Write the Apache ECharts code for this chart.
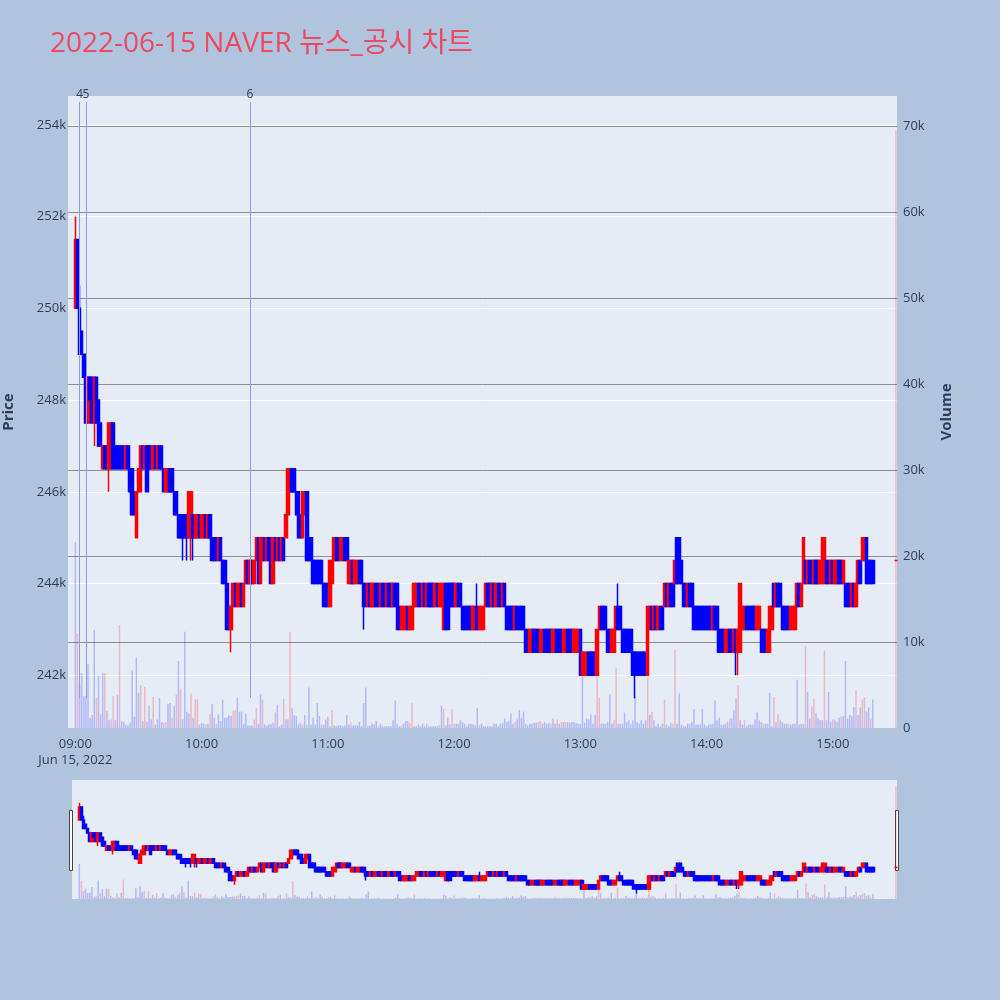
<!DOCTYPE html>
<html lang="ko">
<head>
<meta charset="UTF-8">
<title>2022-06-15 NAVER 뉴스_공시 차트</title>
<script src="https://cdn.jsdelivr.net/npm/echarts@6/dist/echarts.min.js"></script>
<style>
  body { margin: 0; background: #b0c4de; }
  #chart { width: 1000px; height: 1000px; }
</style>
</head>
<body>
<div id="chart"></div>
<script>
// 1분봉, 09:00 부터. 단위 천원: [시가, 종가] 또는 [시가, 종가, 저가, 고가]
var candles = [
  [250,251.5,250,252],[251.5,250],[250,249,249,250.5],[249.5,249],[249,248.5],[248.5,247.5],[247.5,248.5],[248.5,248],[248.5,247.5],[247.5,248.5,247,248.5],
  [248.5,247.5],[248,247],[247.5,247],[246.5,247],[247,246.5],[247,246.5],[246.5,247.5,246,247.5],[246.5,247.5],[247.5,246.5],[247,246.5],
  [247,246.5],[247,246.5],[247,246.5],[247,246.5],[246.5,247],[247,246.5],[246.5,246],[246.5,245.5],[246,245.5],[245,246],
  [246,246.5],[246,247],[247,246.5],[246.5,247],[247,246],[247,246.5],[247,246.5],[246.5,247],[247,246.5],[246.5,247],
  [247,246.5],[247,246.5],[246.5,246],[246,246.5],[246,246.5],[246.5,246],[246.5,246],[246,245.5],[246,245.5],[245.5,245],
  [245.5,245],[245.5,245,244.5,245.5],[245.5,245],[245.5,245,244.5,245.5],[245,246],[245,246,244.5,246],[245.5,245,244.5,245.5],[245,245.5],[245,245.5],[245.5,245],
  [245,245.5],[245,245.5],[245.5,245],[245,245.5],[245.5,245],[245,244.5],[245,244.5],[245,244.5],[244.5,245],[245,244.5],
  [244.5,244],[244.5,244],[244,243],[243.5,243],[243,243.5,242.5,243.5],[243.5,244],[244,243.5],[243.5,244],[243.5,244],[244,243.5],
  [243.5,244],[244,244.5],[244.5,244],[244,244.5],[244.5,244],[244,244.5],[244.5,245],[245,244],[244,245],[244.5,245],
  [245,244.5],[244.5,245],[245,244.5],[245,244],[244,245],[245,244.5],[244.5,245],[245,244.5],[244.5,245],[245,244.5],
  [245,245.5],[245.5,246.5],[246,246.5],[246.5,246],[246.5,246],[246,245.5],[246,245],[245.5,245],[245,246],[245.5,246],
  [246,244.5],[245,244.5],[245,244.5],[244.5,244],[244.5,244],[244.5,244],[244.5,244],[244.5,244],[244,243.5],[244,243.5],
  [244,243.5],[243.5,244.5],[244,244.5],[244.5,245],[245,244.5],[245,244.5],[244.5,245],[244.5,245],[245,244.5],[245,244.5],
  [244,244.5],[244,244.5],[244.5,244],[244,244.5],[244,244.5],[244.5,244],[244.5,244],[244,243.5,243,244],[244,243.5],[243.5,244],
  [244,243.5],[243.5,244],[243.5,244],[244,243.5],[244,243.5],[243.5,244],[244,243.5],[244,243.5],[243.5,244],[244,243.5],
  [244,243.5],[243.5,244],[244,243.5],[244,243],[243.5,243],[243,243.5],[243,243.5],[243,243.5],[243.5,243],[243,243.5],
  [243,243.5],[243.5,244],[243.5,244],[244,243.5],[244,243.5],[243.5,244],[244,243.5],[243.5,244],[244,243.5],[244,243.5],
  [244,243.5],[243.5,244],[244,243.5],[243.5,244],[243.5,244],[243,244],[244,243],[244,243],[244,243.5],[244,243.5],
  [244,243.5],[243.5,244],[244,243.5],[244,243.5],[243.5,243],[243.5,243],[243.5,243],[243.5,243],[243.5,243],[243,243.5],
  [243,243.5],[243.5,243,243,244],[243,243.5],[243,243.5],[243,243.5],[243.5,244],[244,243.5],[244,243.5],[243.5,244],[244,243.5],
  [243.5,244],[244,243.5],[244,243.5],[243.5,244],[244,243.5],[243.5,243],[243.5,243],[243.5,243],[243.5,243],[243,243.5],
  [243.5,243],[243.5,243],[243.5,243],[243.5,243],[243,242.5],[243,242.5],[242.5,243],[242.5,243],[243,242.5],[243,242.5],
  [243,242.5],[242.5,243],[242.5,243],[243,242.5],[243,242.5],[243,242.5],[243,242.5],[242.5,243],[242.5,243],[243,242.5],
  [243,242.5],[243,242.5],[242.5,243],[242.5,243],[243,242.5],[243,242.5],[243,242.5],[242.5,243],[242.5,243],[242.5,243],
  [243,242],[242,242.5],[242,242.5],[242,242.5],[242.5,242],[242.5,242],[242.5,242],[242.5,242],[242,243],[243,243.5],
  [243.5,243],[243.5,243],[243.5,243],[243,242.5],[243,242.5],[242.5,243],[242.5,243],[243,243.5],[243.5,243,243,244],[243.5,243],
  [243,242.5],[243,242.5],[243,242.5],[243,242.5],[243,242.5],[242.5,242],[242.5,242,241.5,242.5],[242.5,242],[242.5,242],[242.5,242],
  [242.5,242],[242.5,242],[242,243.5],[243,243.5],[243.5,243],[243,243.5],[243.5,243],[243,243.5],[243.5,243],[243.5,243],
  [243.5,244],[244,243.5],[243.5,244],[244,243.5],[244,243.5],[244,244.5],[245,244],[245,244],[244.5,244],[244,243.5],
  [244,243.5],[243.5,244],[244,243.5],[244,243.5],[243.5,243],[243.5,243],[243.5,243],[243.5,243],[243.5,243],[243.5,243],
  [243.5,243],[243.5,243],[243.5,243],[243,243.5],[243.5,243],[243.5,243],[243,242.5],[243,242.5],[243,242.5],[242.5,243],
  [242.5,243],[243,242.5],[243,242.5],[242.5,243],[243,242.5,242,243],[242.5,243,242,243],[242.5,244],[243,243.5],[243,243.5],[243.5,243],
  [243.5,243],[243.5,243],[243.5,243],[243.5,243],[243,243.5],[243,243.5],[243,242.5],[243,242.5],[243,242.5],[242.5,243],
  [242.5,243.5],[243,243.5],[244,243.5],[243.5,244],[244,243.5],[244,243.5],[243.5,243],[243.5,243],[243.5,243],[243.5,243],
  [243,243.5],[243,243.5],[243,243.5],[243.5,244],[244,243.5],[243.5,244],[244,245],[244.5,244],[244,244.5],[244.5,244],
  [244.5,244],[244,244.5],[244.5,244],[244.5,244],[244,244.5],[244,245],[244,245],[244.5,244],[244.5,244],[244,244.5],
  [244.5,244],[244,244.5],[244,244.5],[244.5,244],[244.5,244],[244,244.5],[244,243.5],[244,243.5],[244,243.5],[243.5,244],
  [244,243.5],[243.5,244],[244,244.5],[244.5,244],[244.5,245],[244.5,245],[245,244],[244.5,244],[244.5,244],[244.5,244]
];

// 분당 거래량 (천주)
var volumes = [
  21.6,11,5,6.4,3.7,3.7,7.4,1.2,1.5,11.4,
  3.5,6.1,1.6,6.4,6.4,2.0,0.9,1.0,3.7,0.9,
  3.8,12,0.8,0.7,0.4,0.3,0.6,6.7,1.3,8.2,
  4.1,5,0.8,4.8,0.7,2.6,1.0,3.6,0.4,1.0,
  3.5,0.7,0.6,0.7,2.8,2.9,1.2,2.6,3.9,7.8,
  4.5,1.0,11.2,1.9,1.7,4.0,1.2,3.3,3.3,0.4,
  0.6,0.5,0.4,0.5,1.6,2.8,1.2,0.5,1.6,0.8,
  3.3,1.2,1.2,1.5,1.4,2.0,2.1,3.5,1.9,1.9,
  0.5,1.7,0.3,0.3,0.3,1.0,2.3,0.5,3.9,3.3,
  0.4,0.3,0.4,0.4,0.6,1.8,2.7,0.2,0.4,3.4,
  1.0,1.0,11.2,2.3,1.5,1.4,0.4,0.6,0.4,1.5,
  0.4,4.7,0.4,1.2,0.4,2.9,1.4,0.4,0.4,1.0,
  1.3,0.2,2.1,0.3,0.2,0.3,0.3,0.2,0.3,1.5,
  0.4,0.7,0.3,0.3,0.3,0.7,0.2,2.9,4.7,0.2,
  0.3,0.5,0.4,0.8,0.2,0.5,0.2,0.2,0.2,0.2,
  0.2,0.9,3.2,0.5,0.2,0.3,0.5,0.8,0.8,0.6,
  2.9,0.2,0.2,0.4,0.2,0.5,0.2,0.5,0.2,0.2,
  0.2,0.2,0.2,0.3,2.6,2.2,0.3,1.2,0.4,2.2,
  0.5,0.5,0.5,0.9,0.7,0.5,0.2,0.5,0.5,0.4,
  0.3,2.3,0.3,0.5,0.2,0.2,0.2,0.2,0.2,0.5,
  0.5,0.2,0.5,0.6,1.1,0.7,0.8,1.7,0.5,0.7,
  1.0,2.1,1.2,1.9,0.5,0.3,0.5,0.5,0.6,0.6,
  0.7,0.8,0.5,0.7,0.5,0.6,0.5,1.1,0.5,1.0,
  0.5,0.7,0.7,0.7,0.7,0.6,0.7,0.7,0.6,0.5,
  0.5,6.4,0.6,1.1,1.0,1.6,0.5,1.5,6.0,3.5,
  0.5,0.5,0.5,0.7,3.9,0.5,0.9,7.0,0.5,0.5,
  0.5,1.8,0.7,0.9,0.5,0.9,3.6,0.7,0.5,0.9,
  0.5,0.9,5.8,1.5,1.9,0.9,0.2,0.5,0.2,0.5,
  3.3,0.4,0.2,0.6,0.5,9.1,0.5,4.0,0.4,0.2,
  0.2,0.5,0.5,0.7,2.2,0.4,0.4,0.4,2.2,0.4,
  0.2,0.4,0.4,0.5,3.2,0.9,1.2,0.4,0.4,0.5,
  0.7,1.1,1.1,2.1,3.4,5.0,0.9,0.4,0.9,0.2,
  0.4,0.4,0.4,1.0,1.8,0.9,0.7,0.5,0.5,0.5,
  4.1,0.2,3.6,0.7,1.6,0.9,0.7,0.5,0.5,0.5,
  0.4,0.5,0.5,5.6,0.4,0.5,0.5,9.5,4.2,1.1,
  2.5,3.4,1.7,1.1,0.9,0.9,9.0,0.9,4.2,0.7,
  1.0,0.9,0.7,1.2,1.3,1.4,7.8,1.1,1.5,1.4,
  2.4,4.4,1.5,2.4,3.3,3.6,1.9,2.4,1.1,3.3
];

// 빨간 거래량 막대인 분 (09:00 기준 index)
var volRed = [1,10,14,17,18,21,31,33,37,42,43,46,48,50,55,57,58,62,64,67,75,76,85,86,89,95,99,102,108,110,117,122,131,
  139,144,155,159,160,167,173,175,179,180,192,209,220,221,226,229,231,233,248,249,256,257,
  264,272,274,280,284,285,311,315,318,327,332,334,339,347,350,351,356,360,364,371,374,375,378];

// 15:30 종가 단일가
var closeCandle = [244.5, 244.5];
var closeVolume = 69.5;

// 뉴스/공시 표시
var newsMinutes = [2, 5, 83];
var newsLabels = ['4', '5', '6'];

var dateLabel = 'Jun 15, 2022';
var priceRange = [240.85, 254.63];
var volumeRange = [0, 73.5];

var lead = 3; // 09:00 앞의 여백 (분)
var cats = [];
for (var t = 9 * 60 - lead; t <= 15 * 60 + 30; t++) {
  var h = Math.floor(t / 60), mm = t % 60;
  cats.push((h < 10 ? '0' : '') + h + ':' + (mm < 10 ? '0' : '') + mm);
}
var closeIdx = cats.indexOf('15:30');

function toK(c) {
  var lo = c.length > 2 ? c[2] : Math.min(c[0], c[1]);
  var hi = c.length > 2 ? c[3] : Math.max(c[0], c[1]);
  return [c[0], c[1], lo, hi];
}

var kData = cats.map(function () { return '-'; });
candles.forEach(function (c, m) { kData[m + lead] = toK(c); });
kData[closeIdx] = toK(closeCandle);

var blueVol = 'rgba(0,0,255,0.22)', redVol = 'rgba(255,0,0,0.22)';
var vData = cats.map(function () { return '-'; });
volumes.forEach(function (v, m) {
  vData[m + lead] = { value: v, itemStyle: { color: volRed.indexOf(m) >= 0 ? redVol : blueVol } };
});
vData[closeIdx] = { value: closeVolume, itemStyle: { color: redVol } };

var newsLines = newsMinutes.map(function (m, i) {
  return [
    { coord: [cats[m + lead], 241.5] },
    { coord: [cats[m + lead], 254.5], label: { formatter: newsLabels[i] } }
  ];
});

var candleStyle = {
  color: '#ff0000', color0: '#0000ff',
  borderColor: '#ff0000', borderColor0: '#0000ff', borderColorDoji: '#ff0000',
  borderWidth: 1.5
};

var axisText = '#2a3f5f';
var chart = echarts.init(document.getElementById('chart'));
chart.setOption({
  animation: false,
  backgroundColor: '#b0c4de',
  textStyle: { fontFamily: '"Open Sans", "Noto Sans CJK KR", verdana, arial, sans-serif' },
  title: {
    text: '2022-06-15 NAVER 뉴스_공시 차트',
    left: 45, top: 25,
    textStyle: { fontSize: 28, fontWeight: 'normal', color: '#ec4a62',
      fontFamily: '"Open Sans", "Noto Sans CJK KR", sans-serif' }
  },
  grid: [
    { left: 68, top: 96, width: 829, height: 632, show: true, backgroundColor: '#e5ecf6', borderWidth: 0, outerBoundsMode: 'none' },
    { left: 72, top: 780, width: 825, height: 119, show: true, backgroundColor: '#e5ecf6', borderWidth: 0, outerBoundsMode: 'none' }
  ],
  xAxis: [
    {
      type: 'category', data: cats, gridIndex: 0, boundaryGap: true,
      axisLine: { show: false }, axisTick: { show: false }, splitLine: { show: false },
      axisLabel: {
        color: axisText, fontSize: 13, margin: 8, lineHeight: 16,
        interval: function (i, v) { return /:00$/.test(v) && v >= '09:00' && v <= '15:00'; },
        formatter: function (v) { return v === '09:00' ? v + '\n' + dateLabel : v; }
      }
    },
    { type: 'category', data: cats, gridIndex: 1, boundaryGap: true, show: false }
  ],
  yAxis: [
    {
      type: 'value', gridIndex: 0, position: 'left', min: priceRange[0], max: priceRange[1], splitNumber: 7,
      axisLine: { show: false }, axisTick: { show: false },
      axisLabel: { color: axisText, fontSize: 13, margin: 2, showMinLabel: false, showMaxLabel: false,
        formatter: function (v) { return v + 'k'; } },
      splitLine: { lineStyle: { color: '#ffffff', width: 1 }, showMinLine: false, showMaxLine: false },
      name: 'Price', nameLocation: 'middle', nameRotate: 90, nameGap: 52,
      nameTextStyle: { color: axisText, fontSize: 15, fontWeight: 'bold' }
    },
    {
      type: 'value', gridIndex: 0, position: 'right', min: volumeRange[0], max: volumeRange[1], splitNumber: 7,
      axisLine: { show: false }, axisTick: { show: false },
      axisLabel: { color: axisText, fontSize: 13, margin: 6, showMaxLabel: false,
        formatter: function (v) { return v === 0 ? '0' : v + 'k'; } },
      splitLine: { lineStyle: { color: '#8f8f8f', width: 1 }, showMinLine: false, showMaxLine: false },
      name: 'Volume', nameLocation: 'middle', nameRotate: 90, nameGap: 42,
      nameTextStyle: { color: axisText, fontSize: 15, fontWeight: 'bold' }
    },
    { type: 'value', gridIndex: 1, min: priceRange[0], max: priceRange[1], show: false, splitLine: { show: false } },
    { type: 'value', gridIndex: 1, min: volumeRange[0], max: volumeRange[1], show: false, splitLine: { show: false } }
  ],
  series: [
    {
      type: 'bar', xAxisIndex: 0, yAxisIndex: 1, data: vData, barWidth: 1.5, z: 1, silent: true
    },
    {
      type: 'candlestick', xAxisIndex: 0, yAxisIndex: 0, data: kData, barWidth: 3, z: 3,
      itemStyle: candleStyle,
      markLine: {
        silent: true, symbol: ['none', 'none'],
        lineStyle: { color: '#8e9ae3', width: 1, type: 'solid' },
        label: { show: true, position: 'end', distance: 1, color: axisText, fontSize: 12 },
        data: newsLines
      }
    },
    {
      type: 'bar', xAxisIndex: 1, yAxisIndex: 3, data: vData, barWidth: 1.5, z: 1, silent: true
    },
    {
      type: 'candlestick', xAxisIndex: 1, yAxisIndex: 2, data: kData, barWidth: 3, z: 3,
      itemStyle: candleStyle, silent: true
    }
  ],
  graphic: [
    { type: 'rect', shape: { x: 69.5, y: 810.5, width: 3, height: 60 }, style: { fill: '#ffffff', stroke: '#444444', lineWidth: 1 } },
    { type: 'rect', shape: { x: 895.5, y: 810.5, width: 3, height: 60 }, style: { fill: '#ffffff', stroke: '#444444', lineWidth: 1 } }
  ]
});
</script>
</body>
</html>
